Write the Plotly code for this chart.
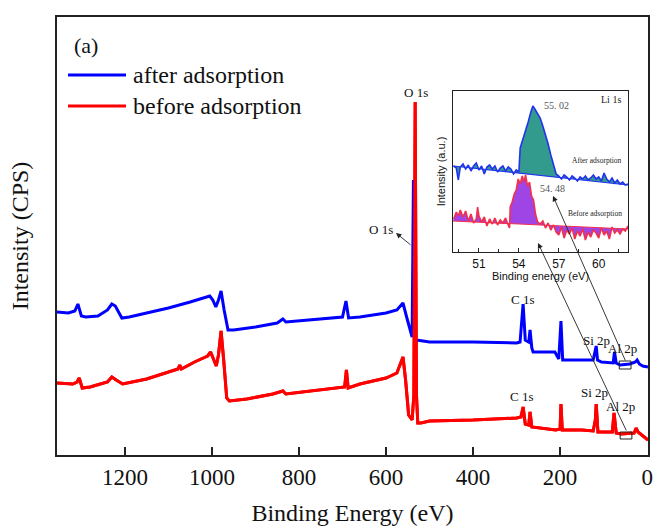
import plotly.graph_objects as go

# ---------------- data: XPS survey (binding energy eV, intensity a.u.) ----------------
be_after = [1356, 1330, 1315, 1308, 1300, 1290, 1262, 1240, 1230, 1222, 1207, 1190, 1150, 1100,
            1050, 1021, 1005, 998, 991, 985, 979, 972, 963, 950, 900, 850, 837, 830, 800, 760,
            722, 700, 692, 686, 660, 600, 575, 561, 552, 545, 540, 537, 534, 530, 500, 400,
            300, 292, 285, 280, 272, 269, 265, 262, 225, 212, 203, 198, 194, 150, 124, 119,
            117, 114, 105, 78, 75, 71, 62, 40, 27, 23, 18, 10, 0, -2]
int_after = [143, 142, 144, 151, 139, 138, 139, 145, 151, 149, 137, 138, 142, 147,
             153, 157, 159, 155, 148, 155, 164, 145, 125, 125, 128, 132, 136, 133, 134, 136,
             137, 138, 154, 137, 138, 142, 145, 152, 137, 125, 118, 275, 116, 115, 113, 113,
             112, 113, 151, 115, 113, 125, 107, 103, 103, 103, 96, 134, 95, 95, 95, 105,
             109, 95, 93, 92, 103, 92, 90, 91, 93, 95, 91, 89, 88, 88]

be_before = [1356, 1320, 1310, 1305, 1298, 1280, 1240, 1230, 1220, 1205, 1150, 1100, 1078, 1074,
             1070, 1040, 1010, 1003, 995, 990, 985, 979, 973, 966, 960, 920, 860, 837, 830,
             790, 740, 695, 691, 687, 660, 600, 575, 561, 555, 548, 540, 536, 533, 530, 527,
             520, 500, 400, 300, 290, 285, 280, 272, 269, 265, 250, 210, 200, 198, 195, 150,
             124, 119, 117, 113, 80, 76, 71, 60, 30, 25, 21, 10, 0, -2]
int_before = [72, 71, 73, 77, 67, 68, 73, 78, 75, 71, 76, 83, 86, 90,
              86, 93, 99, 103, 95, 89, 100, 124, 95, 57, 54, 56, 61, 64, 61,
              63, 66, 68, 85, 67, 71, 77, 82, 98, 75, 40, 35, 60, 353, 60, 32,
              32, 34, 35, 37, 38, 48, 31, 30, 43, 28, 27, 25, 26, 51, 25, 25,
              24, 35, 51, 23, 23, 42, 22, 21, 22, 27, 23, 19, 15, 15]

main_ticks = [1200, 1000, 800, 600, 400, 200, 0]

# ---------------- data: Li 1s inset ----------------
li_after_be = [49.1, 49.3, 49.45, 49.6, 49.8, 50.0, 50.2, 50.4, 50.6, 50.8, 51.0, 51.2, 51.4,
               51.6, 51.8, 52.0, 52.2, 52.4, 52.6, 52.8, 53.0, 53.2, 53.4, 53.6, 53.8, 54.0,
               54.1, 54.3, 54.5, 54.7, 54.9, 55.05, 55.2, 55.4, 55.6, 55.8, 56.0, 56.2, 56.4,
               56.6, 56.8, 57.0, 57.2, 57.4, 57.6, 57.8, 58.0, 58.2, 58.4, 58.6, 58.8, 59.0,
               59.2, 59.4, 59.6, 59.8, 60.0, 60.2, 60.4, 60.6, 60.8, 61.0, 61.2, 61.4, 61.6,
               61.8, 62.0, 62.2]
li_after_int = [86, 84, 72, 85, 88, 83, 87, 81, 86, 89, 82, 86, 78,
                85, 87, 83, 86, 80, 84, 86, 81, 85, 83, 78, 82, 80,
                104, 112, 120, 130, 140, 146, 143, 139, 134, 126, 118, 108, 97,
                86, 78, 76, 73, 77, 75, 72, 76, 74, 71, 75, 73, 76,
                72, 74, 77, 73, 75, 71, 79, 73, 70, 74, 69, 72, 68,
                70, 67, 68]
li_after_base_be = [49.05, 62.2]
li_after_base_int = [86, 67]

li_before_be = [49.1, 49.3, 49.45, 49.6, 49.8, 50.0, 50.2, 50.4, 50.6, 50.8, 50.9, 51.0, 51.2,
                51.4, 51.6, 51.8, 52.0, 52.2, 52.4, 52.6, 52.8, 53.0, 53.2, 53.3, 53.35, 53.5,
                53.65, 53.8, 53.95, 54.1, 54.25, 54.4, 54.5, 54.65, 54.8, 54.95, 55.1, 55.25,
                55.4, 55.6, 55.8, 56.0, 56.2, 56.4, 56.6, 56.8, 57.0, 57.2, 57.4, 57.6, 57.8,
                58.0, 58.2, 58.4, 58.6, 58.8, 59.0, 59.2, 59.4, 59.6, 59.8, 60.0, 60.2, 60.4,
                60.6, 60.8, 61.0, 61.2, 61.4, 61.6, 61.8, 62.0, 62.2]
li_before_int = [33, 40, 36, 42, 35, 41, 31, 38, 29, 33, 45, 36, 30,
                 35, 26, 33, 28, 34, 27, 32, 29, 34, 27, 24, 45, 50,
                 58, 62, 73, 68, 76, 70, 77, 66, 70, 56, 52, 38,
                 30, 28, 31, 24, 29, 22, 27, 20, 17, 25, 14, 22, 18,
                 24, 13, 21, 16, 23, 12, 20, 15, 22, 19, 14, 24, 17,
                 21, 13, 25, 19, 22, 18, 23, 21, 26]
li_before_base_be = [49.05, 62.2]
li_before_base_int = [31, 23]

inset_ticks = [51, 54, 57, 60]

# ---------------- layout helpers (pixel -> paper) ----------------
W, H = 653, 529
PL, PR, PT, PB = 57, 648, 17, 455


def px(x):
    return (x - PL) / (PR - PL)


def py(y):
    return (PB - y) / (PB - PT)


SERIF = "Liberation Serif, Times New Roman, serif"
SANS = "Liberation Sans, Arial, sans-serif"
BLUE = "#0000ff"
RED = "#ff0000"

fig = go.Figure()

fig.add_trace(go.Scatter(x=be_before, y=int_before, mode="lines", name="before adsorption",
                         line=dict(color=RED, width=3), showlegend=False))
fig.add_trace(go.Scatter(x=be_after, y=int_after, mode="lines", name="after adsorption",
                         line=dict(color=BLUE, width=3), showlegend=False))
# red drawn again above blue so the O 1s spike covers the blue one
fig.add_trace(go.Scatter(x=be_before, y=int_before, mode="lines", name="before adsorption",
                         line=dict(color=RED, width=3), showlegend=False, hoverinfo="skip"))

# inset traces
fig.add_trace(go.Scatter(x=li_after_base_be, y=li_after_base_int, mode="lines",
                         line=dict(color=BLUE, width=0), xaxis="x2", yaxis="y2",
                         showlegend=False, hoverinfo="skip"))
fig.add_trace(go.Scatter(x=li_after_be, y=li_after_int, mode="lines", fill="tonexty",
                         fillcolor="#339a8e", line=dict(color="#2233ee", width=1.6),
                         xaxis="x2", yaxis="y2", showlegend=False))
fig.add_trace(go.Scatter(x=li_after_base_be, y=li_after_base_int, mode="lines",
                         line=dict(color="#2233ee", width=1.2), xaxis="x2", yaxis="y2",
                         showlegend=False, hoverinfo="skip"))
fig.add_trace(go.Scatter(x=li_before_base_be, y=li_before_base_int, mode="lines",
                         line=dict(color=RED, width=0), xaxis="x2", yaxis="y2",
                         showlegend=False, hoverinfo="skip"))
fig.add_trace(go.Scatter(x=li_before_be, y=li_before_int, mode="lines", fill="tonexty",
                         fillcolor="#9f45e6", line=dict(color="#f2304e", width=1.6),
                         xaxis="x2", yaxis="y2", showlegend=False))
fig.add_trace(go.Scatter(x=li_before_base_be, y=li_before_base_int, mode="lines",
                         line=dict(color="#f2304e", width=1.2), xaxis="x2", yaxis="y2",
                         showlegend=False, hoverinfo="skip"))

annotations = []


def label(text, x, y, size=12, color="#111", family=SERIF, anchor="center"):
    annotations.append(dict(text=text, x=px(x), y=py(y), xref="paper", yref="paper",
                            xanchor=anchor, yanchor="middle", showarrow=False,
                            font=dict(family=family, size=size, color=color)))


# main labels
label("(a)", 72, 45, size=22, anchor="left")
label("after adsorption", 131, 75, size=24, anchor="left")
label("before adsorption", 131, 106, size=24, anchor="left")
label("O 1s", 416, 92, size=13)
label("O 1s", 381, 229, size=13)
label("C 1s", 522, 299, size=13)
label("C 1s", 521, 396, size=13)
label("Si 2p", 596, 340, size=13)
label("Al 2p", 622, 348, size=13)
label("Si 2p", 594, 392, size=13)
label("Al 2p", 620, 406, size=13)
# inset labels
label("55. 02", 556, 105, size=10, color="#555")
label("54. 48", 552, 188, size=10, color="#555")
label("Li 1s", 611, 99, size=10, color="#222")
label("After adsorption", 597, 160, size=7.5, color="#222")
label("Before adsorption", 595, 214, size=7.5, color="#222")

# arrows (head at first point, tail at second)
arrows = [((396, 233), (412, 246)), ((553, 196), (626, 362)), ((538, 243), (627, 432))]
for (hx, hy), (tx, ty) in arrows:
    annotations.append(dict(x=px(hx), y=py(hy), xref="paper", yref="paper", text="",
                            showarrow=True, ax=tx - hx, ay=ty - hy, arrowhead=2,
                            arrowsize=1.2, arrowwidth=0.9, arrowcolor="#222", standoff=0))

shapes = [
    # legend samples
    dict(type="line", xref="paper", yref="paper", x0=px(68), x1=px(126), y0=py(75), y1=py(75),
         line=dict(color=BLUE, width=3)),
    dict(type="line", xref="paper", yref="paper", x0=px(68), x1=px(126), y0=py(106), y1=py(106),
         line=dict(color=RED, width=3)),
    # small boxes marking the Li 1s region
    dict(type="rect", xref="x", yref="y", x0=64, x1=37, y0=86, y1=94,
         line=dict(color="#222", width=1)),
    dict(type="rect", xref="x", yref="y", x0=62, x1=35, y0=16, y1=23,
         line=dict(color="#222", width=1)),
]

fig.update_layout(
    width=W, height=H,
    margin=dict(l=PL, r=W - PR, t=PT, b=H - PB),
    paper_bgcolor="white", plot_bgcolor="white",
    showlegend=False,
    font=dict(family=SERIF, color="#111"),
    annotations=annotations,
    shapes=shapes,
    xaxis=dict(range=[1356, -2], tickvals=main_ticks, ticks="inside", ticklen=8, tickwidth=1.5,
               tickcolor="#222", showline=True, linecolor="#222", linewidth=2, mirror=True,
               showgrid=False, zeroline=False, automargin=False,
               tickfont=dict(family=SERIF, size=23, color="#111"),
               title=dict(text="Binding Energy (eV)", font=dict(family=SERIF, size=24, color="#111"),
                          standoff=16)),
    yaxis=dict(range=[0, 438], showticklabels=False, ticks="", showline=True, linecolor="#222",
               linewidth=2, mirror=True, showgrid=False, zeroline=False, automargin=False,
               title=dict(text="Intensity (CPS)", font=dict(family=SERIF, size=24, color="#111"),
                          standoff=20)),
    xaxis2=dict(domain=[px(453), px(628)], anchor="y2", range=[49.05, 62.2],
                tickvals=inset_ticks, ticks="inside", ticklen=4, tickcolor="#222",
                minor=dict(dtick=1.5, tick0=49.5, ticks="inside", ticklen=3, tickcolor="#222"),
                showline=True, linecolor="#222", linewidth=1.2, mirror=True, showgrid=False,
                zeroline=False, automargin=False, tickfont=dict(family=SANS, size=12, color="#111"),
                title=dict(text="Binding energy (eV)", font=dict(family=SANS, size=11, color="#111"),
                           standoff=0)),
    yaxis2=dict(domain=[py(252), py(91)], anchor="x2", range=[0, 161], showticklabels=False,
                ticks="", showline=True, linecolor="#222", linewidth=1.2, mirror=True,
                showgrid=False, zeroline=False, automargin=False,
                title=dict(text="Intensity (a.u.)", font=dict(family=SANS, size=11, color="#111"),
                           standoff=4)),
)

fig.write_html("out.html")
